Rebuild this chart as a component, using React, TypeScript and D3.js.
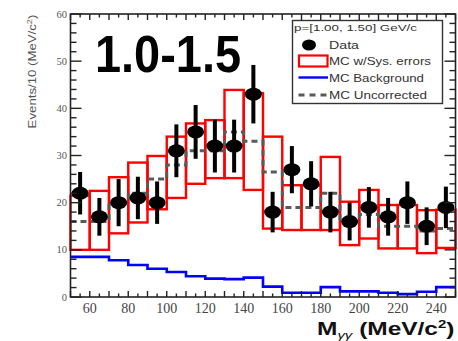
import React from 'react';
import * as d3 from 'd3';

// Bin centres (MeV/c^2), 10 MeV bins
const massCenters = [55, 65, 75, 85, 95, 105, 115, 125, 135, 145, 155, 165, 175, 185, 195, 205, 215, 225, 235, 245];
const binWidth = 10;
// Data points and their errors
const dataValues = [22, 17, 20, 21, 20, 31, 35, 32, 32, 43, 18, 27, 24, 18, 16, 19, 17, 20, 15, 19];
const dataErrors = [4.5, 4, 5, 4.5, 4.5, 5.6, 5.7, 5.6, 5.6, 6.2, 4.3, 5, 4.8, 4.3, 4, 4.3, 4, 4.5, 4, 4.4];
// MC with systematic errors (box low / high)
const mcLow = [10, 10, 13.5, 15.8, 18.6, 21, 24, 25.2, 25.2, 22.7, 14.5, 14.2, 14.2, 14.2, 11, 12.4, 10.3, 10.3, 9.3, 10.4];
const mcHigh = [21.5, 22.5, 25.4, 28.5, 29.9, 34, 36.8, 37.5, 43.9, 43.2, 34, 23.7, 23.7, 29.7, 20.2, 22.7, 19.5, 19.5, 18.4, 18.5];
// MC uncorrected (dashed)
const mcUncorrected = [16, 16, 20, 22, 25, 28, 31, 31, 35, 33, 26.5, 19, 19, 22, 16, 17.5, 15, 15, 14, 14.5];
// MC background (blue)
const mcBackground = [8.5, 8.5, 7.8, 6.8, 6.0, 5.3, 4.4, 3.9, 3.8, 4.1, 2.2, 0.9, 0.9, 2.1, 1.2, 1.2, 0.9, 0.6, 1.1, 2.1];

const xTickLabels = [60, 80, 100, 120, 140, 160, 180, 200, 220, 240];
const yTickLabels = [0, 10, 20, 30, 40, 50, 60];
const xDomain = [50, 250];
const yDomain = [0, 60];

export default function App() {
  const W = 458, H = 341;
  const x = d3.scaleLinear().domain(xDomain).range([70.5, 455.5]);
  const y = d3.scaleLinear().domain(yDomain).range([297, 14]);
  const x0 = x(xDomain[0]), x1 = x(xDomain[1]);
  const y0 = y(yDomain[0]), y1 = y(yDomain[1]);

  const stepPts = (vals: number[]) => {
    const pts: [number, number][] = massCenters.map((c, i) => [c - binWidth / 2, vals[i]]);
    pts.push([massCenters[massCenters.length - 1] + binWidth / 2, vals[vals.length - 1]]);
    return pts;
  };
  const stepLine = d3.line<[number, number]>().x(d => x(d[0])).y(d => y(d[1])).curve(d3.curveStepAfter);

  const xMinor = d3.range(xDomain[0], xDomain[1] + 0.01, 5);
  const yMinor = d3.range(yDomain[0], yDomain[1] + 0.01, 2);

  const axisColor = '#222';
  const sans = 'Liberation Sans, Arial, sans-serif';
  const serif = 'Liberation Serif, Times New Roman, serif';

  return (
    <svg width={W} height={H} style={{ position: 'absolute', left: 0, top: 0, background: '#fff' }}>
      <rect x={0} y={0} width={W} height={H} fill="#fff" />
      {/* MC boxes */}
      {massCenters.map((c, i) => (
        <rect key={'b' + i} x={x(c - binWidth / 2)} y={y(mcHigh[i])}
          width={x(c + binWidth / 2) - x(c - binWidth / 2)} height={y(mcLow[i]) - y(mcHigh[i])}
          fill="none" stroke="#ff0000" strokeWidth={2.4} />
      ))}
      {/* MC background */}
      <path d={stepLine(stepPts(mcBackground)) || ''} fill="none" stroke="#0000ff" strokeWidth={2.6} />
      {/* MC uncorrected */}
      <path d={stepLine(stepPts(mcUncorrected)) || ''} fill="none" stroke="#5a5a5a" strokeWidth={3} strokeDasharray="6,4" />
      {/* Data */}
      {massCenters.map((c, i) => (
        <g key={'d' + i}>
          <line x1={x(c)} x2={x(c)} y1={y(dataValues[i] + dataErrors[i])} y2={y(dataValues[i] - dataErrors[i])}
            stroke="#000" strokeWidth={4} />
          <ellipse cx={x(c)} cy={y(dataValues[i])} rx={8.5} ry={6.5} fill="#000" />
        </g>
      ))}
      {/* Frame */}
      <rect x={x0} y={y1} width={x1 - x0} height={y0 - y1} fill="none" stroke={axisColor} strokeWidth={1.6} />
      {/* x ticks bottom & top */}
      {xMinor.map((v, i) => {
        const major = v % 10 === 0;
        const len = major ? 6 : 3.5;
        return (
          <g key={'xt' + i}>
            <line x1={x(v)} x2={x(v)} y1={y0} y2={y0 - len} stroke={axisColor} strokeWidth={1.4} />
            <line x1={x(v)} x2={x(v)} y1={y1} y2={y1 + len} stroke={axisColor} strokeWidth={1.4} />
          </g>
        );
      })}
      {/* y ticks left & right */}
      {yMinor.map((v, i) => {
        const major = v % 10 === 0;
        const len = major ? 11 : 6;
        return (
          <g key={'yt' + i}>
            <line x1={x0} x2={x0 + len} y1={y(v)} y2={y(v)} stroke={axisColor} strokeWidth={1.4} />
            <line x1={x1} x2={x1 - len} y1={y(v)} y2={y(v)} stroke={axisColor} strokeWidth={1.4} />
          </g>
        );
      })}
      {/* tick labels */}
      {xTickLabels.map(v => (
        <text key={'xl' + v} x={x(v)} y={313} textAnchor="middle" fontFamily={serif} fontSize={14} fill="#444">{v}</text>
      ))}
      {yTickLabels.map(v => (
        <text key={'yl' + v} x={67} y={y(v) + 3.5} textAnchor="end" fontFamily={serif} fontSize={10.5} fill="#555">{v}</text>
      ))}
      {/* y axis title */}
      <g transform="translate(36,71.5) rotate(-90)">
        <text x={0} y={0} textAnchor="middle" fontFamily={sans} fontSize={11.5} fill="#555" transform="scale(1.15,1)">
          Events/10 (MeV/c<tspan dy={-4} fontSize={8}>2</tspan><tspan dy={4}>)</tspan>
        </text>
      </g>
      {/* x axis title */}
      <g transform="translate(317,335)">
        <text x={0} y={0} fontFamily={sans} fontSize={18} fontWeight="bold" fill="#111" transform="scale(1.36,1)">
          M<tspan dy={4} fontSize={11} fontStyle="italic" fontWeight="normal">γγ</tspan><tspan dy={-4}> (MeV/c</tspan><tspan dy={-7} fontSize={11}>2</tspan><tspan dy={7}>)</tspan>
        </text>
      </g>
      {/* big label */}
      <text x={95} y={72} fontFamily={sans} fontSize={51} fontWeight="bold" fill="#000" textLength={146} lengthAdjust="spacingAndGlyphs">1.0-1.5</text>
      {/* legend */}
      <rect x={292.5} y={20.5} width={150} height={83} fill="#fff" stroke="#333" strokeWidth={1.4} />
      <text x={294} y={31} fontFamily={sans} fontSize={9} fill="#333" textLength={123} lengthAdjust="spacingAndGlyphs">p=[1.00, 1.50] GeV/c</text>
      <ellipse cx={309} cy={45} rx={7} ry={5.5} fill="#000" />
      <text x={329} y={49} fontFamily={sans} fontSize={11} fill="#333" textLength={30} lengthAdjust="spacingAndGlyphs">Data</text>
      <rect x={299} y={55.5} width={28.5} height={11} fill="none" stroke="#ff0000" strokeWidth={2.2} />
      <text x={329} y={65} fontFamily={sans} fontSize={11} fill="#333" textLength={102} lengthAdjust="spacingAndGlyphs">MC w/Sys. errors</text>
      <line x1={298.5} x2={328} y1={77.5} y2={77.5} stroke="#0000ff" strokeWidth={2.4} />
      <text x={329} y={81.5} fontFamily={sans} fontSize={11} fill="#333" textLength={95} lengthAdjust="spacingAndGlyphs">MC Background</text>
      <line x1={298.5} x2={328} y1={95} y2={95} stroke="#5a5a5a" strokeWidth={3} strokeDasharray="6,5" />
      <text x={329} y={99} fontFamily={sans} fontSize={11} fill="#333" textLength={98} lengthAdjust="spacingAndGlyphs">MC Uncorrected</text>
    </svg>
  );
}
